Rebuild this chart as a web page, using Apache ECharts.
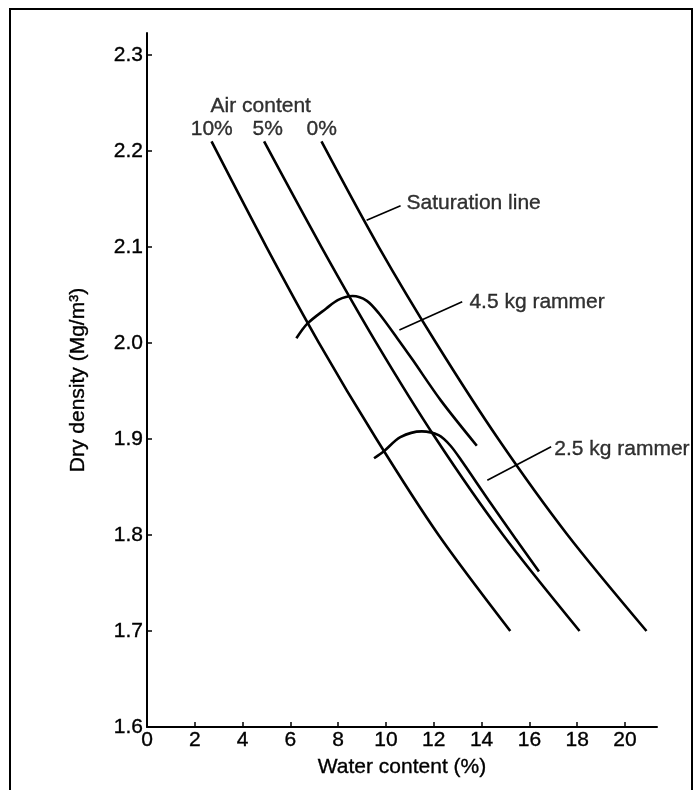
<!DOCTYPE html>
<html><head><meta charset="utf-8">
<script src="https://cdn.jsdelivr.net/npm/echarts@6/dist/echarts.min.js"></script>
<style>html,body{margin:0;padding:0;background:#fff}#c{width:694px;height:790px}</style>
</head><body><div id="c"></div>
<script>
// ---- data ----
const xTicks = [0, 2, 4, 6, 8, 10, 12, 14, 16, 18, 20];
const yTicks = [1.6, 1.7, 1.8, 1.9, 2.0, 2.1, 2.2, 2.3];

const airDensity = [2.21, 2.1, 2.0, 1.9, 1.8, 1.7];
const air10Water = [2.7, 5.0, 7.2, 9.6, 12.2, 15.2];
const air5Water  = [4.9, 7.3, 9.6, 12.1, 14.9, 18.1];
const air0Water  = [7.3, 9.7, 12.1, 14.7, 17.6, 20.9];

const rammer45Water   = [6.25, 6.7, 7.5, 8.0, 8.6, 9.2, 9.7, 10.5, 11.1, 12.3, 13.8];
const rammer45Density = [2.005, 2.020, 2.036, 2.045, 2.049, 2.044, 2.031, 2.004, 1.983, 1.94, 1.893];
const rammer25Water   = [9.5, 9.9, 10.6, 11.5, 12.2, 12.7, 13.2, 14.3, 15.4, 16.4];
const rammer25Density = [1.880, 1.887, 1.902, 1.908, 1.904, 1.893, 1.876, 1.836, 1.797, 1.762];

const airTitle = 'Air content';
const airLabels = ['10%', '5%', '0%'];
const annotationTexts = ['Saturation line', '4.5 kg rammer', '2.5 kg rammer'];

// annotation placement (data units)
const airTitleAt = [4.76, 2.247];
const airLabelAt = [[2.71, 2.223], [5.05, 2.223], [7.31, 2.223]];
const annotationAt = [[10.86, 2.146], [13.49, 2.043], [17.04, 1.889]];
const leaderLines = [
  [[9.19, 2.128], [10.61, 2.143]],
  [[10.56, 2.0135], [13.19, 2.043]],
  [[14.24, 1.857], [16.91, 1.892]]
];

// ---- build ----
const FONT = 'Liberation Sans, Arial, Helvetica, sans-serif';
const TXT = { color: '#000', fontSize: 21, fontFamily: FONT, textBorderColor: '#000', textBorderWidth: 0.35 };
const zip = (xs, ys) => xs.map((x, i) => [x, ys[i]]);
const curve = (name, data) => ({
  name, type: 'line', data, showSymbol: false, smooth: 0.3,
  lineStyle: { color: '#000', width: 2.6 }, z: 3
});
const leader = (d) => ({
  type: 'line', data: d, showSymbol: false,
  lineStyle: { color: '#000', width: 1.6 }, z: 3
});
const textSeries = (items, align) => ({
  type: 'scatter', symbolSize: 0, z: 4,
  data: items.map(([t, p]) => ({ value: p, label: { formatter: t } })),
  label: Object.assign({ show: true, position: [0, 0], align: align, verticalAlign: 'middle' }, TXT)
});

const chart = echarts.init(document.getElementById('c'), null, { renderer: 'canvas' });
chart.setOption({
  animation: false,
  backgroundColor: '#fff',
  grid: { left: 147, right: 37, top: 33, bottom: 63, containLabel: false },
  xAxis: {
    type: 'value', min: 0, max: 21.34,
    name: 'Water content (%)', nameLocation: 'middle', nameGap: 30,
    nameTextStyle: TXT,
    axisLine: { show: true, lineStyle: { color: '#000', width: 2 } },
    axisTick: { show: true, inside: true, length: 5, customValues: xTicks, lineStyle: { color: '#000', width: 1.5 } },
    axisLabel: Object.assign({ margin: 3, customValues: xTicks, formatter: v => String(v) }, TXT),
    splitLine: { show: false }
  },
  yAxis: {
    type: 'value', min: 1.6, max: 2.323,
    name: 'Dry density (Mg/m³)', nameLocation: 'middle', nameGap: 58, nameRotate: 90,
    nameTextStyle: TXT,
    axisLine: { show: true, lineStyle: { color: '#000', width: 2 } },
    axisTick: { show: true, inside: true, length: 5, customValues: yTicks, lineStyle: { color: '#000', width: 1.5 } },
    axisLabel: Object.assign({ margin: 4, customValues: yTicks, formatter: v => Number(v).toFixed(1) }, TXT),
    splitLine: { show: false }
  },
  graphic: [{
    type: 'rect', shape: { x: 10, y: 9, width: 682, height: 800 },
    style: { fill: null, stroke: '#000', lineWidth: 2 }, silent: true, z: 0
  }],
  series: [
    curve('10%', zip(air10Water, airDensity)),
    curve('5%', zip(air5Water, airDensity)),
    curve('0%', zip(air0Water, airDensity)),
    curve('4.5 kg rammer', zip(rammer45Water, rammer45Density)),
    curve('2.5 kg rammer', zip(rammer25Water, rammer25Density)),
    ...leaderLines.map(leader),
    textSeries([[airTitle, airTitleAt]].concat(airLabels.map((t, i) => [t, airLabelAt[i]])), 'center'),
    textSeries(annotationTexts.map((t, i) => [t, annotationAt[i]]), 'left')
  ]
});
</script>
</body></html>
